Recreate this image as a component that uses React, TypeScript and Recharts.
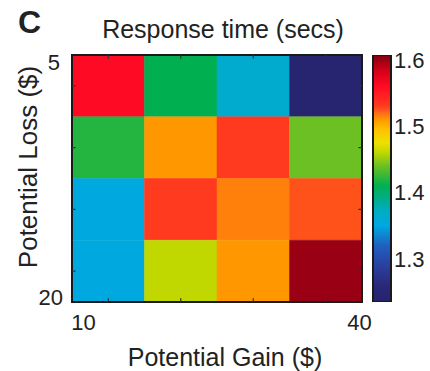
import React from 'react';
import { ScatterChart, XAxis, YAxis, ReferenceArea, ReferenceLine, BarChart, Bar } from 'recharts';

// Potential gain ($) columns and potential loss ($) rows
const gainValues = [10, 20, 30, 40];
const lossValues = [5, 10, 15, 20];
const gainTickLabels = ['10', '40'];
const lossTickLabels = ['5', '20'];

// Mean response time (secs) per cell, one array per potential-loss row
const loss5Times = [1.56, 1.41, 1.365, 1.24];
const loss10Times = [1.42, 1.51, 1.53, 1.44];
const loss15Times = [1.35, 1.53, 1.515, 1.525];
const loss20Times = [1.35, 1.46, 1.51, 1.6];

const colorbarTicks = [1.3, 1.4, 1.5, 1.6];
const colorMin = 1.235;
const colorMax = 1.607;

const rows = [loss5Times, loss10Times, loss15Times, loss20Times];

// printed "jet" palette sampled from the colour bar
const palette: [number, string][] = [
  [1.235, '#26236e'],
  [1.26, '#29297a'],
  [1.29, '#2a40a0'],
  [1.32, '#2060c0'],
  [1.35, '#00a8e0'],
  [1.37, '#00acc8'],
  [1.41, '#00b050'],
  [1.44, '#6cc024'],
  [1.46, '#c0d800'],
  [1.475, '#eee000'],
  [1.495, '#ffc000'],
  [1.51, '#ff9800'],
  [1.52, '#ff6a18'],
  [1.53, '#ff3a1e'],
  [1.56, '#ff0a24'],
  [1.585, '#d00018'],
  [1.607, '#800010'],
];

const hex = (c: string) => [1, 3, 5].map((i) => parseInt(c.slice(i, i + 2), 16));
const toHex = (a: number[]) => '#' + a.map((v) => Math.round(v).toString(16).padStart(2, '0')).join('');

function colorFor(v: number): string {
  if (v <= palette[0][0]) return palette[0][1];
  for (let i = 1; i < palette.length; i++) {
    if (v <= palette[i][0]) {
      const [v0, c0] = palette[i - 1];
      const [v1, c1] = palette[i];
      const t = (v - v0) / (v1 - v0);
      const a = hex(c0);
      const b = hex(c1);
      return toHex(a.map((x, k) => x + (b[k] - x) * t));
    }
  }
  return palette[palette.length - 1][1];
}

const cells = rows.flatMap((row, r) =>
  row.map((v, c) => ({ gain: gainValues[c], loss: lossValues[r], col: c, row: r, value: v }))
);

const FONT = '"Liberation Sans", Arial, Helvetica, sans-serif';
const INK = '#222';

const GainTick = (props: any) => {
  const { x, y, index } = props;
  const dx = index === 0 ? 11.5 : -2.5;
  return (
    <text x={x + dx} y={y + 28} textAnchor="middle" fontFamily={FONT} fontSize={22} fill={INK}>
      {gainTickLabels[index]}
    </text>
  );
};

const LossTick = (props: any) => {
  const { x, y, index } = props;
  const dx = index === 0 ? -12 : -9;
  const dy = index === 0 ? 15 : 3;
  return (
    <text x={x + dx} y={y + dy} textAnchor="end" fontFamily={FONT} fontSize={22} fill={INK}>
      {lossTickLabels[index]}
    </text>
  );
};

const BarTick = (props: any) => {
  const { x, y, payload } = props;
  return (
    <text x={x + 3} y={y + 8} textAnchor="start" fontFamily={FONT} fontSize={22} fill={INK}>
      {payload.value.toFixed(1)}
    </text>
  );
};

const tickPos = [0.5, 1.5, 2.5, 3.5];

export default function App() {
  const colorbarData = [{ name: 'rt', range: [colorMin, colorMax] }];
  return (
    <div style={{ position: 'absolute', left: 0, top: 0, width: 430, height: 371, background: '#fff', overflow: 'hidden' }}>
      <div style={{ position: 'absolute', left: 0, top: 0 }}>
        <ScatterChart width={430} height={371} margin={{ top: 55, right: 68, bottom: 0, left: 0 }}>
          <XAxis
            type="number"
            dataKey="x"
            domain={[0, 4]}
            ticks={[0, 4]}
            allowDataOverflow
            height={69}
            axisLine={false}
            tickLine={false}
            tickSize={0}
            tickMargin={0}
            tick={<GainTick />}
            interval={0}
          />
          <YAxis
            type="number"
            dataKey="y"
            domain={[0, 4]}
            ticks={[0, 4]}
            reversed
            allowDataOverflow
            width={72}
            axisLine={false}
            tickLine={false}
            tickSize={0}
            tickMargin={0}
            tick={<LossTick />}
            interval={0}
          />
          {cells.map((c) => (
            <ReferenceArea
              key={`${c.row}-${c.col}`}
              x1={c.col}
              x2={c.col + 1}
              y1={c.row}
              y2={c.row + 1}
              fill={colorFor(c.value)}
              fillOpacity={1}
              stroke={colorFor(c.value)}
              strokeWidth={0.5}
              ifOverflow="visible"
            />
          ))}
          {tickPos.map((t) => (
            <ReferenceLine key={`bx${t}`} segment={[{ x: t, y: 4 }, { x: t, y: 3.94 }]} stroke="#333" strokeWidth={1.2} ifOverflow="visible" />
          ))}
          {tickPos.map((t) => (
            <ReferenceLine key={`tx${t}`} segment={[{ x: t, y: 0 }, { x: t, y: 0.06 }]} stroke="#333" strokeWidth={1.2} ifOverflow="visible" />
          ))}
          {tickPos.map((t) => (
            <ReferenceLine key={`ly${t}`} segment={[{ x: 0, y: t }, { x: 0.05, y: t }]} stroke="#333" strokeWidth={1.2} ifOverflow="visible" />
          ))}
          {tickPos.map((t) => (
            <ReferenceLine key={`ry${t}`} segment={[{ x: 4, y: t }, { x: 3.95, y: t }]} stroke="#333" strokeWidth={1.2} ifOverflow="visible" />
          ))}
          <ReferenceArea x1={0} x2={4} y1={0} y2={4} fill="none" fillOpacity={0} stroke="#1a1a1a" strokeWidth={2} ifOverflow="visible" />
        </ScatterChart>
      </div>
      <div style={{ position: 'absolute', left: 0, top: 0 }}>
        <BarChart
          width={430}
          height={371}
          data={colorbarData}
          margin={{ top: 55, right: 0, bottom: 69, left: 373 }}
          barCategoryGap={0}
          barGap={0}
        >
          <defs>
            <linearGradient id="cbGrad" x1="0" y1="1" x2="0" y2="0">
              {palette.map(([v, c]) => (
                <stop key={v} offset={(v - colorMin) / (colorMax - colorMin)} stopColor={c} />
              ))}
            </linearGradient>
          </defs>
          <XAxis dataKey="name" hide />
          <YAxis
            orientation="right"
            type="number"
            domain={[colorMin, colorMax]}
            ticks={colorbarTicks}
            allowDataOverflow
            width={39}
            axisLine={false}
            tickLine={false}
            tickSize={0}
            tickMargin={0}
            tick={<BarTick />}
            interval={0}
          />
          <Bar dataKey="range" fill="url(#cbGrad)" stroke="#1a1a1a" strokeWidth={2} isAnimationActive={false} />
        </BarChart>
      </div>
      <svg width={430} height={371} style={{ position: 'absolute', left: 0, top: 0, pointerEvents: 'none' }}>
        <text x={18} y={33} fontFamily={FONT} fontWeight="bold" fontSize={32} fill={INK}>C</text>
        <text x={223} y={38} textAnchor="middle" fontFamily={FONT} fontSize={25} fill={INK}>Response time (secs)</text>
        <text x={225} y={366} textAnchor="middle" fontFamily={FONT} fontSize={25} fill={INK}>Potential Gain ($)</text>
        <text x={0} y={0} transform="translate(37,167) rotate(-90)" textAnchor="middle" fontFamily={FONT} fontSize={26} fill={INK}>Potential Loss ($)</text>
      </svg>
    </div>
  );
}
